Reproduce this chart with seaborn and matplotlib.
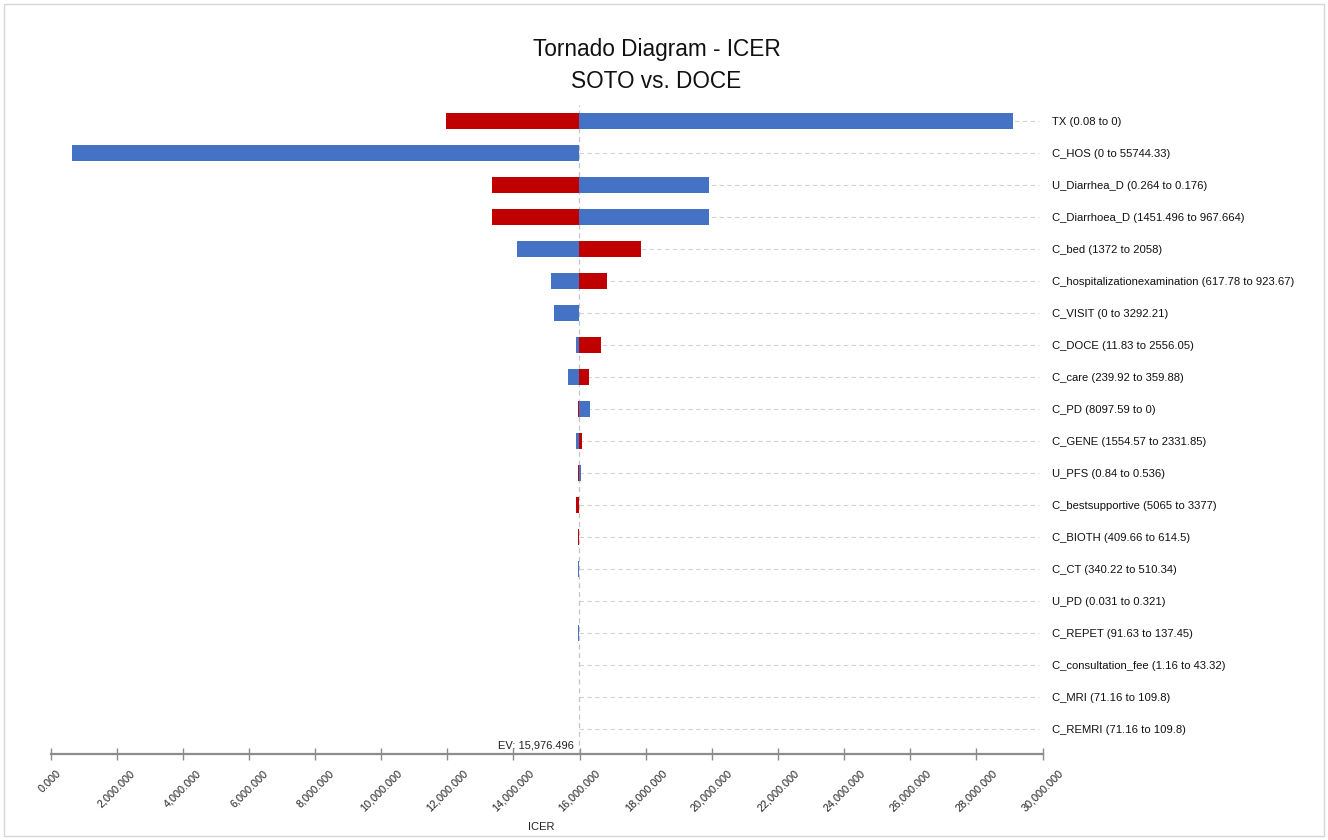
import matplotlib
matplotlib.use("Agg")
import matplotlib.pyplot as plt
from matplotlib.patches import Rectangle
from matplotlib.ticker import FuncFormatter, MultipleLocator
import numpy as np
import pandas as pd
import seaborn as sns

# Sensitivity parameters (label shows the low-to-high range tested)
parameters = [
    "TX (0.08 to 0)",
    "C_HOS (0 to 55744.33)",
    "U_Diarrhea_D (0.264 to 0.176)",
    "C_Diarrhoea_D (1451.496 to 967.664)",
    "C_bed (1372 to 2058)",
    "C_hospitalizationexamination (617.78 to 923.67)",
    "C_VISIT (0 to 3292.21)",
    "C_DOCE (11.83 to 2556.05)",
    "C_care (239.92 to 359.88)",
    "C_PD (8097.59 to 0)",
    "C_GENE (1554.57 to 2331.85)",
    "U_PFS (0.84 to 0.536)",
    "C_bestsupportive (5065 to 3377)",
    "C_BIOTH (409.66 to 614.5)",
    "C_CT (340.22 to 510.34)",
    "U_PD (0.031 to 0.321)",
    "C_REPET (91.63 to 137.45)",
    "C_consultation_fee (1.16 to 43.32)",
    "C_MRI (71.16 to 109.8)",
    "C_REMRI (71.16 to 109.8)",
]

# ICER at the low end of each parameter range (blue)
icer_low = [
    29114, 650, 19918, 19918, 14093, 15139, 15230, 15900, 15654, 16310,
    15905, 16040, 15990, 15985, 15950, 15976.0, 15940, 15975.5, 15976.0, 15976.0,
]
# ICER at the high end of each parameter range (red)
icer_high = [
    11963, 15976.496, 13342, 13342, 17861, 16818, 15976.496, 16640, 16298, 15940,
    16087, 15940, 15900, 15950, 15980, 15977.0, 15985, 15977.0, 15977.0, 15977.0,
]

expected_value = 15976.496
x_ticks_max = 30000
x_tick_step = 2000

BLUE = "#4472C4"
RED = "#C00000"
GRID = "#d2d2d2"
AXIS = "#8c8c8c"

sns.set_theme(style="white")
plt.rcParams["font.family"] = ["Liberation Sans", "DejaVu Sans"]

W, H = 1328, 840
fig = plt.figure(figsize=(W / 100, H / 100), dpi=100)
ax_left, ax_right, ax_top, ax_bottom = 50.5, 1042.5, 105, 754
ax = fig.add_axes([ax_left / W, 1 - ax_bottom / H,
                   (ax_right - ax_left) / W, (ax_bottom - ax_top) / H])

df = pd.DataFrame({
    "parameter": parameters,
    "low": np.asarray(icer_low, dtype=float) - expected_value,
    "high": np.asarray(icer_high, dtype=float) - expected_value,
})

# Dashed row guides and the expected-value reference line
ax.hlines(np.arange(len(parameters)), expected_value, x_ticks_max - 100,
          colors=GRID, linestyles=(0, (4, 3)), linewidth=0.8, zorder=1)
ax.axvline(expected_value, color="#c4c4c4", linestyle=(0, (4, 3)),
           linewidth=0.9, zorder=2)

# Bars start at the expected value and extend to each one-way ICER
for col, color in (("low", BLUE), ("high", RED)):
    sns.barplot(data=df, y="parameter", x=col, orient="h", color=color,
                saturation=1, width=0.52, errorbar=None, left=expected_value,
                linewidth=0, ax=ax, zorder=3)

ax.set_xlim(0, x_ticks_max)
ax.set_ylim(len(parameters) - 0.22, -0.5)

for side in ("top", "right", "left"):
    ax.spines[side].set_visible(False)
ax.spines["bottom"].set_color(AXIS)
ax.spines["bottom"].set_linewidth(1.6)

ax.xaxis.set_major_locator(MultipleLocator(x_tick_step))
ax.xaxis.set_major_formatter(FuncFormatter(lambda v, _: f"{v:,.3f}"))
ax.tick_params(axis="x", direction="inout", length=8, width=1, color=AXIS,
               labelsize=7.8, labelcolor="#222222", pad=6, bottom=True)
for lab in ax.get_xticklabels():
    lab.set_rotation(45)
    lab.set_ha("center")
    lab.set_va("top")

ax.yaxis.tick_right()
ax.tick_params(axis="y", length=0, pad=6.8, labelsize=8.1, labelcolor="#111111")
ax.set_ylabel("")
ax.set_xlabel("ICER", fontsize=8, color="#222222")
ax.xaxis.set_label_coords(0.495, (ax_bottom - 822) / (ax_bottom - ax_top))

ax.annotate(f"EV: {expected_value:,.3f}", xy=(expected_value, 0), xycoords=("data", "axes fraction"),
            xytext=(-3.6, 4.3), textcoords="offset points", ha="right", va="baseline",
            fontsize=8, color="#222222")

fig.text(656.5 / W, 1 - 56 / H, "Tornado Diagram - ICER", ha="center", va="baseline",
         fontsize=16.3, color="#111111")
fig.text(656.5 / W, 1 - 88 / H, "SOTO vs. DOCE", ha="center", va="baseline",
         fontsize=16.3, color="#111111")

fig.add_artist(Rectangle((4 / W, 4 / H), (W - 8) / W, (H - 8) / H, fill=False,
                         edgecolor="#d6d6d6", linewidth=1, transform=fig.transFigure))

fig.savefig("out.png", dpi=100)
